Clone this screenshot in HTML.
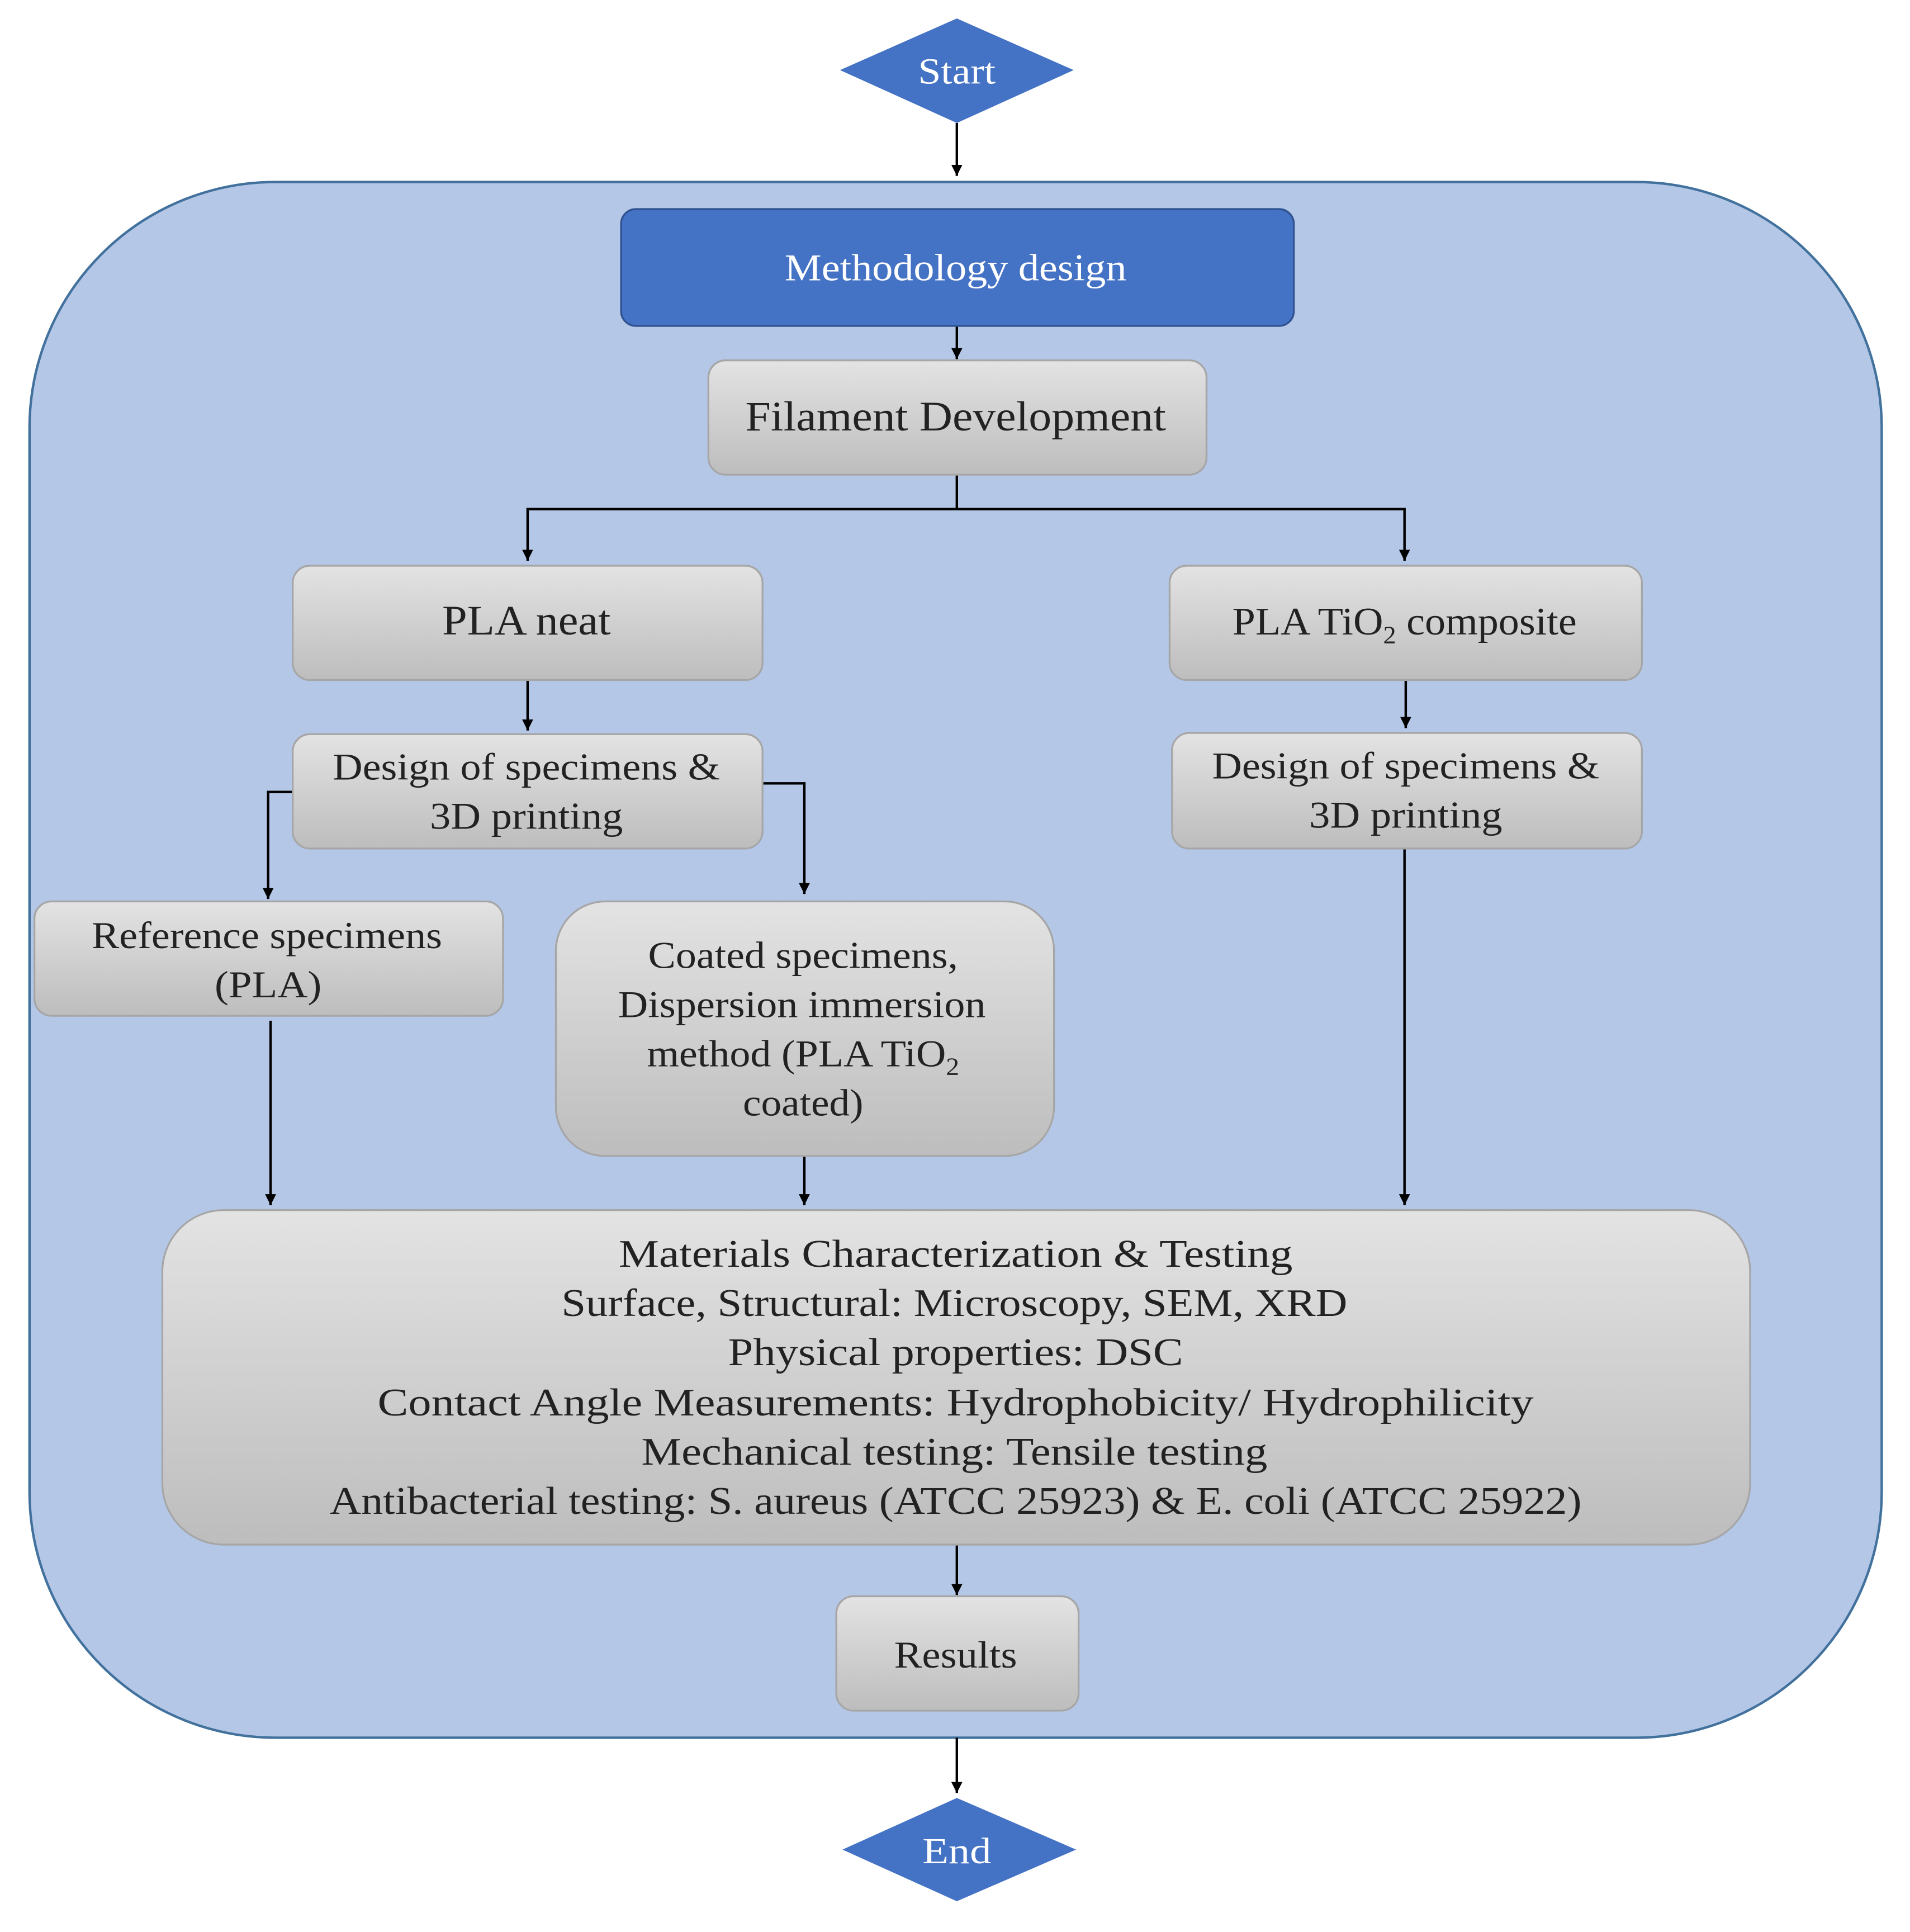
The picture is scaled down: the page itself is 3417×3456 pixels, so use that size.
<!DOCTYPE html>
<html><head><meta charset="utf-8"><style>
html,body{margin:0;padding:0;background:#fff;}
svg{display:block;}
text{font-family:"Liberation Serif",serif;text-anchor:middle;fill:#222;}
</style></head><body>
<svg width="3417" height="3456" viewBox="0 0 1553 1571" preserveAspectRatio="none" xmlns="http://www.w3.org/2000/svg">
<defs>
<linearGradient id="g" x1="0" y1="0" x2="0" y2="1">
<stop offset="0" stop-color="#e3e3e3"/><stop offset="1" stop-color="#bdbdbd"/>
</linearGradient>
<marker id="d" viewBox="0 0 10 10" markerWidth="9" markerHeight="9" refX="10" refY="5" orient="auto" markerUnits="userSpaceOnUse">
<path d="M0,0 L10,5 L0,10 z" fill="#000"/>
</marker>
</defs>
<rect x="0" y="0" width="1553" height="1571" fill="#fff"/>
<polygon points="778,15 873,57 778,100 683,57" fill="#4472c4"/>
<text x="778" y="68" font-size="30" textLength="63" lengthAdjust="spacingAndGlyphs" style="fill:#fff">Start</text>
<rect x="24" y="148" width="1506" height="1265" rx="200" fill="#b4c7e7" stroke="#41719c" stroke-width="2"/>
<g stroke="#000" stroke-width="2" fill="none">
<line x1="778" y1="100" x2="778" y2="143" marker-end="url(#d)"/>
<line x1="778" y1="265" x2="778" y2="292" marker-end="url(#d)"/>
<polyline points="778,386 778,414 429,414 429,456" marker-end="url(#d)"/>
<polyline points="778,414 1142,414 1142,456" marker-end="url(#d)"/>
<line x1="429" y1="553" x2="429" y2="594" marker-end="url(#d)"/>
<line x1="1143" y1="553" x2="1143" y2="592" marker-end="url(#d)"/>
<polyline points="238,644 218,644 218,731" marker-end="url(#d)"/>
<polyline points="620,637 654,637 654,727" marker-end="url(#d)"/>
<line x1="1142" y1="690" x2="1142" y2="980" marker-end="url(#d)"/>
<line x1="220" y1="830" x2="220" y2="980" marker-end="url(#d)"/>
<line x1="654" y1="940" x2="654" y2="980" marker-end="url(#d)"/>
<line x1="778" y1="1256" x2="778" y2="1297" marker-end="url(#d)"/>
<line x1="778" y1="1413" x2="778" y2="1458" marker-end="url(#d)"/>
</g>
<rect x="505" y="170" width="547" height="95" rx="12" fill="#4472c4" stroke="#2f528f" stroke-width="1.5"/>
<text x="777" y="228" font-size="31" textLength="278" lengthAdjust="spacingAndGlyphs" style="fill:#fff">Methodology design</text>
<g fill="url(#g)" stroke="#a6a6a6" stroke-width="1.5">
<rect x="576" y="293" width="405" height="93" rx="14"/>
<rect x="238" y="460" width="382" height="93" rx="14"/>
<rect x="951" y="460" width="384" height="93" rx="14"/>
<rect x="238" y="597" width="382" height="93" rx="14"/>
<rect x="953" y="596" width="382" height="94" rx="14"/>
<rect x="28" y="733" width="381" height="93" rx="14"/>
<rect x="452" y="733" width="405" height="207" rx="40"/>
<rect x="132" y="984" width="1291" height="272" rx="50"/>
<rect x="680" y="1298" width="197" height="93" rx="14"/>
</g>
<text x="777" y="350" font-size="34" textLength="342" lengthAdjust="spacingAndGlyphs">Filament Development</text>
<text x="428" y="516" font-size="34" textLength="137" lengthAdjust="spacingAndGlyphs">PLA neat</text>
<text x="1142" y="516" font-size="32" textLength="280" lengthAdjust="spacingAndGlyphs">PLA TiO<tspan font-size="20" dy="7">2</tspan><tspan dy="-7"> composite</tspan></text>
<text x="428" y="634" font-size="31" textLength="315" lengthAdjust="spacingAndGlyphs">Design of specimens &amp;</text>
<text x="428" y="674" font-size="31" textLength="157" lengthAdjust="spacingAndGlyphs">3D printing</text>
<text x="1143" y="633" font-size="31" textLength="315" lengthAdjust="spacingAndGlyphs">Design of specimens &amp;</text>
<text x="1143" y="673" font-size="31" textLength="157" lengthAdjust="spacingAndGlyphs">3D printing</text>
<text x="217" y="771" font-size="31" textLength="285" lengthAdjust="spacingAndGlyphs">Reference specimens</text>
<text x="218" y="811" font-size="31" textLength="87" lengthAdjust="spacingAndGlyphs">(PLA)</text>
<text x="653" y="787" font-size="31" textLength="252" lengthAdjust="spacingAndGlyphs">Coated specimens,</text>
<text x="652" y="827" font-size="31" textLength="299" lengthAdjust="spacingAndGlyphs">Dispersion immersion</text>
<text x="653" y="867" font-size="31" textLength="254" lengthAdjust="spacingAndGlyphs">method (PLA TiO<tspan font-size="20" dy="7">2</tspan></text>
<text x="653" y="907" font-size="31" textLength="98" lengthAdjust="spacingAndGlyphs">coated)</text>
<g font-size="32">
<text x="777" y="1030" textLength="548" lengthAdjust="spacingAndGlyphs">Materials Characterization &amp; Testing</text>
<text x="776" y="1070" textLength="639" lengthAdjust="spacingAndGlyphs">Surface, Structural: Microscopy, SEM, XRD</text>
<text x="777" y="1110" textLength="370" lengthAdjust="spacingAndGlyphs">Physical properties: DSC</text>
<text x="777" y="1151" textLength="940" lengthAdjust="spacingAndGlyphs">Contact Angle Measurements: Hydrophobicity/ Hydrophilicity</text>
<text x="776" y="1191" textLength="509" lengthAdjust="spacingAndGlyphs">Mechanical testing: Tensile testing</text>
<text x="777" y="1231" textLength="1018" lengthAdjust="spacingAndGlyphs">Antibacterial testing: S. aureus (ATCC 25923) &amp; E. coli (ATCC 25922)</text>
</g>
<text x="777" y="1356" font-size="31" textLength="100" lengthAdjust="spacingAndGlyphs">Results</text>
<polygon points="778,1462 875,1504 778,1546 685,1504" fill="#4472c4"/>
<text x="778" y="1515" font-size="30" textLength="56" lengthAdjust="spacingAndGlyphs" style="fill:#fff">End</text>
</svg>
</body></html>
